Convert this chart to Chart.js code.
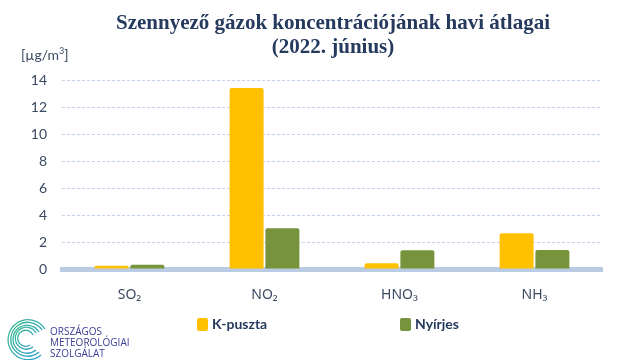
<!DOCTYPE html>
<html>
<head>
<meta charset="utf-8">
<script src="https://cdn.jsdelivr.net/npm/chart.js@4"></script>
<style>
  html, body { margin: 0; padding: 0; background: #fff; }
  #wrap { position: relative; width: 640px; height: 360px; overflow: hidden; }
  #chart { position: absolute; left: 0; top: 0; }
  .title { position: absolute; left: 0; width: 666px; text-align: center; font: bold 21px "Liberation Serif", serif; color: #263a5e; }
  .unit { position: absolute; left: 21px; top: 45px; font: 14px Lato, sans-serif; color: #3b4a63; }
  .unit sup { font-size: 9px; }
  .leg { position: absolute; top: 315px; font: bold 14px Lato, sans-serif; color: #263a5e; }
  .leg i { display: inline-block; width: 11px; height: 13px; border-radius: 2px; vertical-align: -2px; margin-right: 4px; }
  .logo-text { position: absolute; left: 50px; top: 326px; font: 10px/11px "Open Sans", sans-serif; color: #3d4197; }
  #swirl { position: absolute; left: 5px; top: 317px; }
</style>
</head>
<body>
<div id="wrap">
  <canvas id="chart" width="640" height="360"></canvas>
  <div class="title" style="top:10px">Szennyező gázok koncentrációjának havi átlagai</div>
  <div class="title" style="top:34px">(2022. június)</div>
  <div class="unit">[µg/m<sup>3</sup>]</div>
  <div class="leg" style="left:197px"><i style="background:#FFC000"></i>K-puszta</div>
  <div class="leg" style="left:400px"><i style="background:#77933C"></i>Nyírjes</div>
  <svg id="swirl" width="44" height="44" viewBox="0 0 44 44">
    <defs>
      <linearGradient id="g" x1="0" y1="0" x2="1" y2="1">
        <stop offset="0" stop-color="#3dbb8f"/>
        <stop offset="1" stop-color="#2a9ed2"/>
      </linearGradient>
    </defs>
    <g fill="none" stroke="url(#g)" stroke-width="1.3">
      <path d="M40 12 A20 20 0 1 0 36 38"/>
      <path d="M37 13 A17 17 0 1 0 34 35"/>
      <path d="M34 15 A14 14 0 1 0 31 33"/>
      <path d="M31 16 A11 11 0 1 0 28 30"/>
      <path d="M28 18 A8 8 0 1 0 25 28"/>
    </g>
  </svg>
  <div class="logo-text">ORSZÁGOS<br>METEOROLÓGIAI<br>SZOLGÁLAT</div>
</div>
<script>
var categories = ['SO₂', 'NO₂', 'HNO₃', 'NH₃'];
var kPuszta = [0.25, 13.4, 0.42, 2.65];
var nyirjes = [0.32, 3.02, 1.38, 1.4];
var yTicks = [0, 2, 4, 6, 8, 10, 12, 14];

var textColor = '#3b4a63';
var gridBlue = '#c3d2e8';
var baseBlue = '#b9cce4';

new Chart(document.getElementById('chart'), {
    type: 'bar',
    data: {
        labels: categories,
        datasets: [
            {
                label: 'K-puszta',
                data: kPuszta,
                backgroundColor: '#FFC000',
                borderRadius: 2,
                borderSkipped: 'bottom',
                categoryPercentage: 0.53,
                barPercentage: 0.95
            },
            {
                label: 'Nyírjes',
                data: nyirjes,
                backgroundColor: '#77933C',
                borderRadius: 2,
                borderSkipped: 'bottom',
                categoryPercentage: 0.53,
                barPercentage: 0.95
            }
        ]
    },
    options: {
        responsive: false,
        animation: false,
        layout: { padding: { top: 80, right: 38, left: 0, bottom: 0 } },
        plugins: {
            legend: { display: false },
            tooltip: { enabled: false }
        },
        scales: {
            x: {
                z: 1,
                grid: { display: false },
                border: { color: baseBlue, width: 5 },
                ticks: { color: textColor, font: { family: 'Noto Sans', size: 14 }, padding: 10 },
                afterFit: function (s) { s.height = 91; }
            },
            y: {
                min: 0,
                max: 14,
                afterBuildTicks: function (s) { s.ticks = yTicks.map(function (v) { return { value: v }; }); },
                grid: {
                    drawTicks: false,
                    color: function (c) { return c.tick && c.tick.value === 0 ? 'rgba(0,0,0,0)' : gridBlue; }
                },
                border: { display: false, dash: [3, 2] },
                ticks: { color: textColor, font: { family: 'Lato', size: 14 }, padding: 15 },
                afterFit: function (s) { s.width = 62; }
            }
        }
    }
});
</script>
</body>
</html>
